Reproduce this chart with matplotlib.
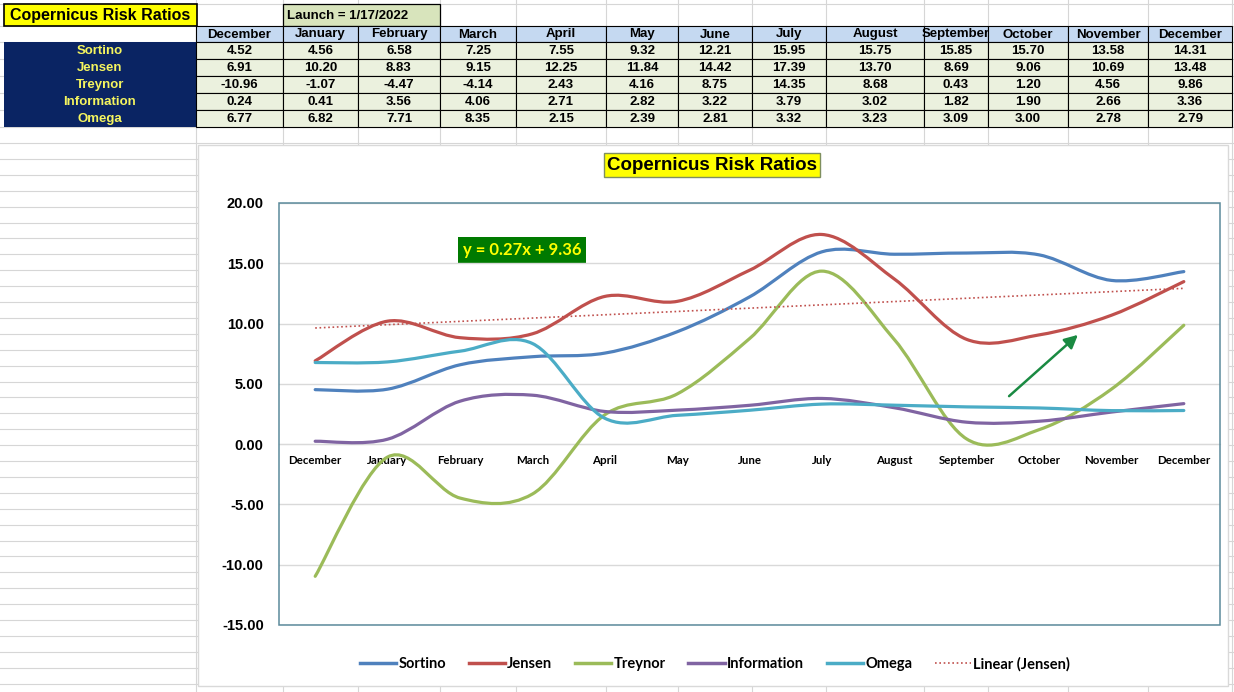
import numpy as np
import matplotlib.pyplot as plt
from matplotlib.patches import Rectangle, PathPatch, FancyArrowPatch
from matplotlib.path import Path
from matplotlib.lines import Line2D
from matplotlib.ticker import FormatStrFormatter

months = ['December', 'January', 'February', 'March', 'April', 'May', 'June',
          'July', 'August', 'September', 'October', 'November', 'December']
series = ['Sortino', 'Jensen', 'Treynor', 'Information', 'Omega']
sortino = [4.52, 4.56, 6.58, 7.25, 7.55, 9.32, 12.21, 15.95, 15.75, 15.85, 15.70, 13.58, 14.31]
jensen = [6.91, 10.20, 8.83, 9.15, 12.25, 11.84, 14.42, 17.39, 13.70, 8.69, 9.06, 10.69, 13.48]
treynor = [-10.96, -1.07, -4.47, -4.14, 2.43, 4.16, 8.75, 14.35, 8.68, 0.43, 1.20, 4.56, 9.86]
information = [0.24, 0.41, 3.56, 4.06, 2.71, 2.82, 3.22, 3.79, 3.02, 1.82, 1.90, 2.66, 3.36]
omega = [6.77, 6.82, 7.71, 8.35, 2.15, 2.39, 2.81, 3.32, 3.23, 3.09, 3.00, 2.78, 2.79]
values = [sortino, jensen, treynor, information, omega]
colors = ['#4f81bd', '#c0504d', '#9bbb59', '#8064a2', '#4bacc6']

ARIAL = 'Liberation Sans'
CALIBRI = 'Lato'
NAVY = '#0a2463'
YEL = '#f5f55f'
GRID = '#d6d6d6'


def smooth_path(x, y):
    # excel-style smoothed line: catmull-rom as cubic bezier
    pts = np.column_stack([x, y]).astype(float)
    n = len(pts)
    verts = [pts[0]]
    codes = [Path.MOVETO]
    for i in range(n - 1):
        p0 = pts[max(i - 1, 0)]
        p1 = pts[i]
        p2 = pts[i + 1]
        p3 = pts[min(i + 2, n - 1)]
        verts += [p1 + (p2 - p0) / 6, p2 - (p3 - p1) / 6, p2]
        codes += [Path.CURVE4] * 3
    return Path(verts, codes)


fig = plt.figure(figsize=(12.34, 6.92), dpi=100)
bg = fig.add_axes([0, 0, 1, 1])
bg.set_xlim(0, 1234)
bg.set_ylim(692, 0)
bg.axis('off')

# spreadsheet grid
col_edges = [196, 283, 358, 440, 516, 606, 678, 752, 826, 924, 988, 1068, 1148, 1232]
row_edges = [26, 42, 59, 76, 93, 110, 127]
hlines = [4] + row_edges + list(np.arange(143, 692, 15.9))
for y in hlines:
    bg.plot([0, 1234], [y, y], color=GRID, lw=0.8, zorder=0)
for x in col_edges:
    bg.plot([x, x], [0, 692], color=GRID, lw=0.8, zorder=0)

# title + launch boxes
bg.add_patch(Rectangle((4, 4), 193, 22, facecolor='#ffff00', edgecolor='black', lw=1.2, zorder=2))
bg.text(100, 15.5, 'Copernicus Risk Ratios', ha='center', va='center', fontsize=11.5,
        fontweight='bold', family=ARIAL, zorder=3)
bg.add_patch(Rectangle((283, 4), 157, 22, facecolor='#d8e4bc', edgecolor='black', lw=0.9, zorder=2))
bg.text(287, 16, 'Launch = 1/17/2022', ha='left', va='center', fontsize=9.5,
        fontweight='bold', family=ARIAL, zorder=3)

# header row
for j, m in enumerate(months):
    x0, x1 = col_edges[j], col_edges[j + 1]
    r = Rectangle((x0, 26), x1 - x0, 16, facecolor='#c5d9f1', edgecolor='black', lw=0.8, zorder=2)
    bg.add_patch(r)
    t = bg.text((x0 + x1) / 2, 34.5, m, ha='center', va='center', fontsize=9.5,
                fontweight='bold', family=ARIAL, zorder=3)
    t.set_clip_path(r)

# label column
bg.add_patch(Rectangle((4, 42), 192, 85, facecolor=NAVY, edgecolor='none', zorder=2))
for i, name in enumerate(series):
    y0, y1 = row_edges[i + 1], row_edges[i + 2]
    bg.text(100, (y0 + y1) / 2 + 0.5, name, ha='center', va='center', fontsize=9.5,
            fontweight='bold', family=ARIAL, color=YEL, zorder=3)
    for j, v in enumerate(values[i]):
        x0, x1 = col_edges[j], col_edges[j + 1]
        bg.add_patch(Rectangle((x0, y0), x1 - x0, y1 - y0, facecolor='#ebf1de',
                               edgecolor='black', lw=0.8, zorder=2))
        bg.text((x0 + x1) / 2, (y0 + y1) / 2 + 0.5, f'{v:.2f}', ha='center', va='center',
                fontsize=9.5, fontweight='bold', family=ARIAL, zorder=3)

# chart area
bg.add_patch(Rectangle((198, 145), 1030, 541, facecolor='white', edgecolor='#d9d9d9', lw=1, zorder=4))
bg.text(712, 165, 'Copernicus Risk Ratios', ha='center', va='center', fontsize=13.5,
        fontweight='bold', family=ARIAL, zorder=6,
        bbox=dict(boxstyle='square,pad=0.18', facecolor='#ffff00', edgecolor='#7f8f5f', lw=1))

ax = fig.add_axes([279 / 1234, 1 - 625 / 692, 941 / 1234, 422 / 692])
ax.set_zorder(5)
ax.patch.set_alpha(0)
x = np.arange(len(months))
for vals, c in zip(values, colors):
    ax.add_patch(PathPatch(smooth_path(x, vals), facecolor='none', edgecolor=c, lw=2.3,
                           capstyle='round', zorder=3))

coef = np.polyfit(x + 1, jensen, 1)
ax.plot(x, np.polyval(coef, x + 1), color='#c0504d', lw=1.2, ls=(0, (1, 1.6)), zorder=4)

for s in ['top', 'left', 'right']:
    ax.spines[s].set_visible(False)
ax.spines['bottom'].set_position(('data', 0))
ax.spines['bottom'].set_color('#d9d9d9')

ax.set_xlim(-0.5, 12.5)
ax.set_ylim(-15, 20)
ax.set_yticks(np.arange(-15, 21, 5))
ax.yaxis.set_major_formatter(FormatStrFormatter('%.2f'))
ax.set_xticks(x)
ax.set_xticklabels(months, fontsize=8.3, fontweight='bold', family=CALIBRI)
for lab in ax.get_yticklabels():
    lab.set_fontsize(10.5)
    lab.set_fontweight('bold')
    lab.set_family(ARIAL)
ax.tick_params(axis='both', length=0)
ax.tick_params(axis='y', pad=11)
ax.tick_params(axis='x', pad=7.5)
ax.yaxis.grid(True, color='#d9d9d9', lw=1)
ax.set_axisbelow(True)
ax.add_patch(Rectangle((0, 0), 1, 1, transform=ax.transAxes, fill=False,
                       edgecolor='#5b8a9b', lw=1.1, zorder=5, clip_on=False))

# trendline equation + arrow
bg.text(522, 250, f'y = {coef[0]:.2f}x + {coef[1]:.2f}', ha='center', va='center',
        fontsize=12, fontweight='bold', family=CALIBRI, color='#ffff00', zorder=7,
        bbox=dict(boxstyle='square,pad=0.3', facecolor='#007a00', edgecolor='none'))
arrow = FancyArrowPatch((1007, 398), (1080, 333), arrowstyle='-|>', mutation_scale=20,
                        lw=1.8, color='#1a8a42', zorder=7)
fig.add_artist(arrow)
arrow.set_transform(bg.transData)

handles = [Line2D([], [], color=c, lw=2.5) for c in colors]
handles.append(Line2D([], [], color='#c0504d', lw=1.2, ls=(0, (1, 1.6))))
labels = series + ['Linear (Jensen)']
fig.legend(handles, labels, loc='center', bbox_to_anchor=(715 / 1234, 1 - 664 / 692),
           ncol=6, frameon=False, handlelength=2.5, handletextpad=0.15, columnspacing=1.55,
           prop={'family': CALIBRI, 'weight': 'bold', 'size': 10.5})

fig.savefig('out.png', dpi=100)
